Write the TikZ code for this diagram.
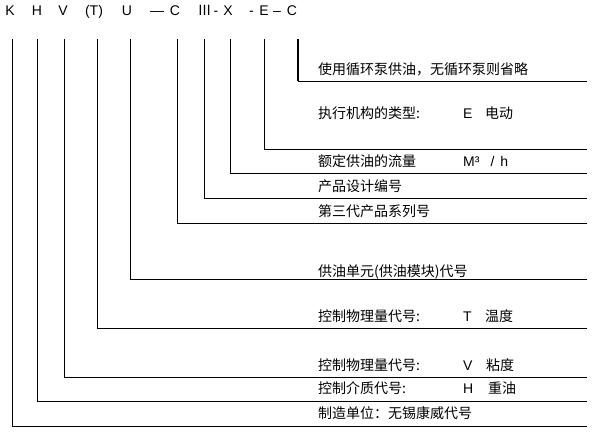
\documentclass[tikz,border=0pt]{standalone}
\usepackage{fontspec}
\setmainfont{Liberation Sans}
\newfontfamily\cjk{Noto Sans CJK SC}
\begin{document}
\begin{tikzpicture}[x=1pt,y=-1pt,
  code/.style={anchor=base,inner sep=0pt,font=\fontsize{14}{16}\selectfont},
  val/.style={anchor=base west,inner sep=0pt,font=\fontsize{14}{16}\selectfont},
  desc/.style={anchor=base west,inner sep=0pt,font=\fontsize{14}{16}\selectfont\cjk},
  lead/.style={draw=black,line width=1pt}]
\useasboundingbox (0,0) rectangle (592,432);

      % model code
      \node[code] (k) at (10,15){K};
      \node[code] (h) at (37,15){H};
      \node[code] (v) at (63,15){V};
      \node[code] (t) at (94,15){(T)};
      \node[code] (u) at (127,15){U};
      \node[code] (d1) at (157,15){—};
      \node[code] (c1) at (175,15){C};
      \node[code,font=\fontsize{14}{16}\selectfont\cjk] (g) at (204.5,15){Ⅲ};
      \node[code] (d2) at (216,15){-};
      \node[code] (x) at (228,15){X};
      \node[code] (d3) at (251.5,15){-};
      \node[code] (e) at (264,15){E};
      \node[code] (d4) at (277,15){–};
      \node[code] (c2) at (292,15){C};

      % descriptions
      \node[desc] (n10) at (318,74){使用循环泵供油，无循环泵则省略};
      \node[desc] (n9) at (318,118){执行机构的类型:};
      \node[val] (v9) at (463,118){E};
      \node[desc] (w9) at (485,118){电动};
      \node[desc] (n8) at (318,166){额定供油的流量};
      \node[val] (v8) at (463,166){M³\hspace{11pt}/\hspace{6pt}h};
      \node[desc] (n7) at (318,191){产品设计编号};
      \node[desc] (n6) at (318,216){第三代产品系列号};
      \node[desc] (n5) at (318,276){供油单元(供油模块)代号};
      \node[desc] (n4) at (318,321){控制物理量代号:};
      \node[val] (v4) at (463,321){T};
      \node[desc] (w4) at (485,321){温度};
      \node[desc] (n3) at (318,370){控制物理量代号:};
      \node[val] (v3) at (463,370){V};
      \node[desc] (w3) at (486,370){粘度};
      \node[desc] (n2) at (318,393){控制介质代号:};
      \node[val] (v2) at (463,393){H};
      \node[desc] (w2) at (488,393){重油};
      \node[desc] (n1) at (318,418){制造单位：无锡康威代号};

      % leader lines
      \coordinate (a1) at (12.5,39);  \coordinate (b1) at (587,426);
      \coordinate (a2) at (37.5,39);  \coordinate (b2) at (587,401);
      \coordinate (a3) at (64.5,39);  \coordinate (b3) at (587,377);
      \coordinate (a4) at (97.5,39);  \coordinate (b4) at (587,328);
      \coordinate (a5) at (130.5,39); \coordinate (b5) at (587,279);
      \coordinate (a6) at (177.5,39); \coordinate (b6) at (587,223);
      \coordinate (a7) at (204.5,39); \coordinate (b7) at (587,198);
      \coordinate (a8) at (230.5,39); \coordinate (b8) at (587,173);
      \coordinate (a9) at (264.5,39); \coordinate (b9) at (587,149);
      \coordinate (a10) at (298,39);  \coordinate (c10) at (298,81);
      \coordinate (b10) at (587,81);

      \draw[lead] (a1) |- (b1);
      \draw[lead] (a2) |- (b2);
      \draw[lead] (a3) |- (b3);
      \draw[lead] (a4) |- (b4);
      \draw[lead] (a5) |- (b5);
      \draw[lead] (a6) |- (b6);
      \draw[lead] (a7) |- (b7);
      \draw[lead] (a8) |- (b8);
      \draw[lead] (a9) |- (b9);
      \draw[lead,line width=2pt] (a10) -- (c10);
      \draw[lead] (c10) -- (b10);
    \end{tikzpicture}
\end{document}
